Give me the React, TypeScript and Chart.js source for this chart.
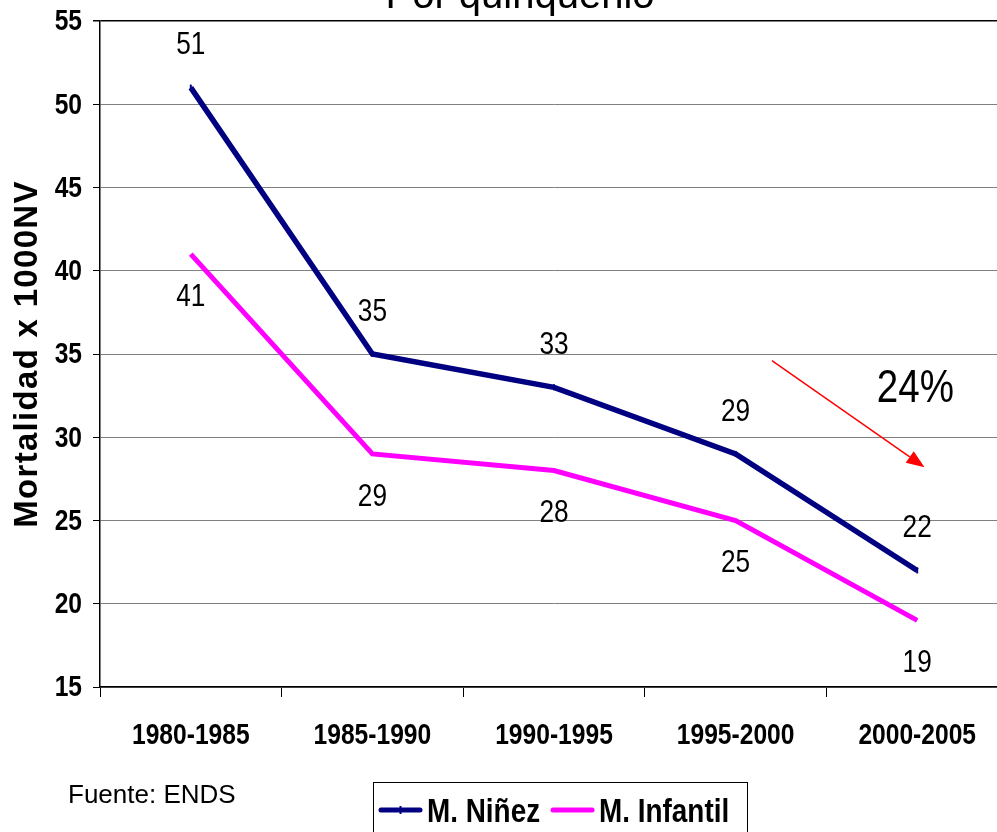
import { useEffect, useRef } from "react";
import { Chart, registerables } from "chart.js";

Chart.register(...registerables);

const categories = ["1980-1985", "1985-1990", "1990-1995", "1995-2000", "2000-2005"];
const ninezValues = [51, 35, 33, 29, 22];
const infantilValues = [41, 29, 28, 25, 19];
const seriesNames = ["M. Niñez", "M. Infantil"];
const seriesColors = ["#000080", "#FF00FF"];
const yMin = 15;
const yMax = 55;
const yStep = 5;
const titleText = "Por quinquenio";
const yAxisTitle = "Mortalidad x 1000NV";
const sourceText = "Fuente: ENDS";
const changeLabel = "24%";
// arrow annotation in data space: [categoryIndex, value]
const arrowStart = [3.2, 34.6];
const arrowEnd = [4.04, 28.2];
const changeLabelAt = [3.99, 32.1];

const ARIAL = '"Liberation Sans", Arial, sans-serif';
const NARROW_SCALE = 0.82;

function narrowText(
  ctx: CanvasRenderingContext2D,
  text: string,
  x: number,
  y: number,
  font: string,
  align: CanvasTextAlign,
  baseline: CanvasTextBaseline
) {
  ctx.save();
  ctx.translate(x, y);
  ctx.scale(NARROW_SCALE, 1);
  ctx.font = font;
  ctx.textAlign = align;
  ctx.textBaseline = baseline;
  ctx.fillStyle = "#000";
  ctx.fillText(text, 0, 0);
  const w = ctx.measureText(text).width * NARROW_SCALE;
  ctx.restore();
  return w;
}

const overlayPlugin = {
  id: "overlay",
  afterDatasetsDraw(chart: any) {
    const ctx = chart.ctx as CanvasRenderingContext2D;
    const x = chart.scales.x;
    const y = chart.scales.y;
    ctx.save();
    // data labels
    chart.data.datasets.forEach((ds: any, di: number) => {
      const meta = chart.getDatasetMeta(di);
      meta.data.forEach((pt: any, i: number) => {
        const off = di === 0 ? -42 : 43;
        narrowText(ctx, String(ds.data[i]), pt.x, pt.y + off, `32px ${ARIAL}`, "center", "middle");
      });
    });
    // arrow
    const x1 = x.getPixelForValue(arrowStart[0]);
    const y1 = y.getPixelForValue(arrowStart[1]);
    const x2 = x.getPixelForValue(arrowEnd[0]);
    const y2 = y.getPixelForValue(arrowEnd[1]);
    const ang = Math.atan2(y2 - y1, x2 - x1);
    const headLen = 18;
    const headW = 7;
    const bx = x2 - headLen * Math.cos(ang);
    const by = y2 - headLen * Math.sin(ang);
    ctx.strokeStyle = "#FF0000";
    ctx.fillStyle = "#FF0000";
    ctx.lineWidth = 1.5;
    ctx.beginPath();
    ctx.moveTo(x1, y1);
    ctx.lineTo(bx, by);
    ctx.stroke();
    ctx.beginPath();
    ctx.moveTo(x2, y2);
    ctx.lineTo(bx + headW * Math.sin(ang), by - headW * Math.cos(ang));
    ctx.lineTo(bx - headW * Math.sin(ang), by + headW * Math.cos(ang));
    ctx.closePath();
    ctx.fill();
    // change label
    narrowText(
      ctx,
      changeLabel,
      x.getPixelForValue(changeLabelAt[0]),
      y.getPixelForValue(changeLabelAt[1]),
      `47px ${ARIAL}`,
      "center",
      "alphabetic"
    );
    ctx.restore();
  },
  afterDraw(chart: any) {
    const ctx = chart.ctx as CanvasRenderingContext2D;
    const area = chart.chartArea;
    const x = chart.scales.x;
    const y = chart.scales.y;
    ctx.save();
    // tick labels
    x.ticks.forEach((t: any, i: number) => {
      narrowText(ctx, String(chart.data.labels[i]), x.getPixelForTick(i), 736, `bold 30px ${ARIAL}`, "center", "middle");
    });
    y.ticks.forEach((t: any, i: number) => {
      narrowText(ctx, String(t.value), 82, y.getPixelForTick(i) + 1, `bold 30px ${ARIAL}`, "right", "middle");
    });
    // title (partially cut at top)
    ctx.fillStyle = "#000";
    ctx.font = `40px ${ARIAL}`;
    ctx.textAlign = "center";
    ctx.textBaseline = "alphabetic";
    ctx.fillText(titleText, 520, 8);
    // y axis title
    ctx.save();
    ctx.translate(28, (area.top + area.bottom) / 2);
    ctx.rotate(-Math.PI / 2);
    ctx.font = `bold 33px ${ARIAL}`;
    (ctx as any).letterSpacing = "1.3px";
    ctx.textAlign = "center";
    ctx.textBaseline = "middle";
    ctx.fillText(yAxisTitle, 0, 0);
    ctx.restore();
    // source
    ctx.font = `26px ${ARIAL}`;
    ctx.textAlign = "left";
    ctx.textBaseline = "middle";
    ctx.fillText(sourceText, 68, 796);
    // legend
    const lx = 373;
    const ly = 782;
    ctx.strokeStyle = "#000";
    ctx.lineWidth = 1;
    ctx.strokeRect(lx + 0.5, ly + 0.5, 374, 80);
    let cx = lx + 8;
    const cy = 810;
    seriesNames.forEach((name, i) => {
      ctx.strokeStyle = seriesColors[i];
      ctx.lineWidth = 5;
      ctx.lineCap = "round";
      ctx.beginPath();
      ctx.moveTo(cx, cy);
      ctx.lineTo(cx + 39, cy);
      ctx.stroke();
      if (i === 0) {
        ctx.lineWidth = 2;
        ctx.lineCap = "butt";
        ctx.beginPath();
        ctx.moveTo(cx + 19.5, cy - 4);
        ctx.lineTo(cx + 19.5, cy + 4);
        ctx.stroke();
      }
      cx += 46;
      const w = narrowText(ctx, name, cx, 822, `bold 34px ${ARIAL}`, "left", "alphabetic");
      cx += w + 13;
    });
    ctx.restore();
  },
};

export default function App() {
  const ref = useRef<HTMLCanvasElement | null>(null);
  useEffect(() => {
    if (!ref.current) return;
    const chart = new Chart(ref.current, {
      type: "line",
      data: {
        labels: categories,
        datasets: [
          {
            label: seriesNames[0],
            data: ninezValues,
            borderColor: seriesColors[0],
            backgroundColor: seriesColors[0],
            borderWidth: 5.5,
            pointRadius: 3,
            pointStyle: "line",
            rotation: 90,
            pointBorderWidth: 2,
            pointBorderColor: seriesColors[0],
            tension: 0,
            clip: false,
          },
          {
            label: seriesNames[1],
            data: infantilValues,
            borderColor: seriesColors[1],
            backgroundColor: seriesColors[1],
            borderWidth: 5,
            pointRadius: 0,
            tension: 0,
            clip: false,
          },
        ],
      },
      options: {
        responsive: false,
        animation: false,
        events: [],
        layout: { padding: { left: 0, top: 21, right: 12, bottom: 0 } },
        plugins: {
          legend: { display: false },
          title: { display: false },
          tooltip: { enabled: false },
        },
        scales: {
          x: {
            type: "category",
            offset: true,
            afterFit(scale: any) {
              scale.height = 145;
            },
            grid: {
              display: true,
              offset: true,
              drawOnChartArea: false,
              drawTicks: true,
              tickLength: 10,
              color: "#000",
              lineWidth: 1,
            },
            border: { display: true, color: "#000", width: 1.5 },
            ticks: { display: false, autoSkip: false, maxRotation: 0 },
          },
          y: {
            min: yMin,
            max: yMax,
            afterFit(scale: any) {
              scale.width = 100;
            },
            grid: {
              color: (c: any) => (c.tick && c.tick.value === yMax ? "#000" : "#808080"),
              lineWidth: (c: any) => (c.tick && c.tick.value === yMax ? 1.5 : 1),
              tickColor: "#000",
              tickLength: 7,
            },
            border: { display: true, color: "#000", width: 1.5 },
            ticks: { display: false, stepSize: yStep },
          },
        },
      },
      plugins: [overlayPlugin],
    });
    return () => chart.destroy();
  }, []);
  return (
    <div
      style={{
        position: "fixed",
        left: 0,
        top: 0,
        width: 997,
        height: 832,
        overflow: "hidden",
        background: "#fff",
      }}
    >
      <canvas ref={ref} width={1020} height={832} style={{ display: "block", width: 1020, height: 832 }} />
    </div>
  );
}
